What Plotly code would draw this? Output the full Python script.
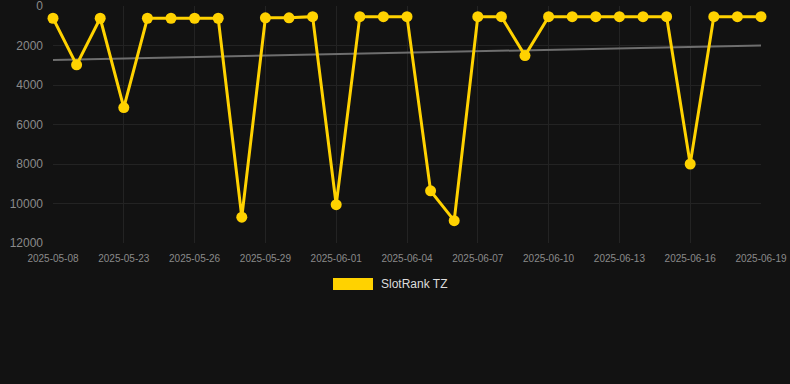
import plotly.graph_objects as go

dates = ["2025-05-08", "2025-05-13", "2025-05-18",
         "2025-05-23", "2025-05-24", "2025-05-25", "2025-05-26", "2025-05-27",
         "2025-05-28", "2025-05-29", "2025-05-30", "2025-05-31", "2025-06-01",
         "2025-06-02", "2025-06-03", "2025-06-04", "2025-06-05", "2025-06-06",
         "2025-06-07", "2025-06-08", "2025-06-09", "2025-06-10", "2025-06-11",
         "2025-06-12", "2025-06-13", "2025-06-14", "2025-06-15", "2025-06-16",
         "2025-06-17", "2025-06-18", "2025-06-19"]
ranks = [620, 2980, 620, 5140, 620, 620, 620, 620,
         10690, 600, 600, 540, 10060, 540, 540, 540, 9360, 10870,
         540, 540, 2510, 540, 540, 540, 540, 540, 540, 8000, 540, 540, 540]
trend_dates = [dates[0], dates[-1]]
trend_values = [2730, 2000]
tick_labels = dates[::3]
y_ticks = [0, 2000, 4000, 6000, 8000, 10000, 12000]
y_tick_text = ["0", "2000", "4000", "6000", "8000", "10000", "12000"]
series_name = "SlotRank TZ"

GOLD = "#FFD200"
BG = "#121212"
GRID = "#232323"

fig = go.Figure()
fig.add_trace(go.Scatter(
    x=trend_dates, y=trend_values, mode="lines",
    line=dict(color="#6e6e6e", width=2), showlegend=False, hoverinfo="skip"))
fig.add_trace(go.Scatter(
    x=dates, y=ranks, mode="lines+markers", name=series_name,
    line=dict(color=GOLD, width=3), cliponaxis=False,
    marker=dict(color=GOLD, size=11), showlegend=False))

fig.update_layout(
    width=790, height=384,
    paper_bgcolor=BG, plot_bgcolor=BG,
    margin=dict(l=53, r=29, t=6, b=141),
    font=dict(family="Liberation Sans, Arial, sans-serif", color="#8a8a8a"),
    showlegend=False,
    xaxis=dict(
        type="category", categoryorder="array", categoryarray=dates,
        range=[0, len(dates) - 1], automargin=False,
        tickvals=tick_labels, ticktext=tick_labels,
        showgrid=True, gridcolor=GRID, gridwidth=1,
        zeroline=False, showline=False, ticks="",
        tickfont=dict(size=10, color="#8a8a8a"), ticklabelstandoff=8),
    yaxis=dict(
        range=[12000, 0], tickmode="array", tickvals=y_ticks, ticktext=y_tick_text,
        automargin=False,
        showgrid=True, gridcolor=GRID, gridwidth=1,
        zeroline=False, showline=False, ticks="", ticklabeloverflow="allow",
        tickfont=dict(size=12, color="#8a8a8a"), ticklabelstandoff=9),
    shapes=[dict(type="rect", xref="paper", yref="paper",
                 x0=(333 - 53) / 708, x1=(373 - 53) / 708,
                 y0=(243 - 290) / 237, y1=(243 - 278) / 237,
                 fillcolor=GOLD, line=dict(width=0))],
    annotations=[dict(text=series_name, xref="paper", yref="paper",
                      x=(379 - 53) / 708, y=(243 - 284) / 237,
                      xanchor="left", yanchor="middle", showarrow=False,
                      font=dict(size=12, color="#dddddd"))],
)

fig.write_html(
    "out.html",
    config={"displayModeBar": False},
    post_script="document.body.style.margin='0';document.body.style.background='#121212';",
)
